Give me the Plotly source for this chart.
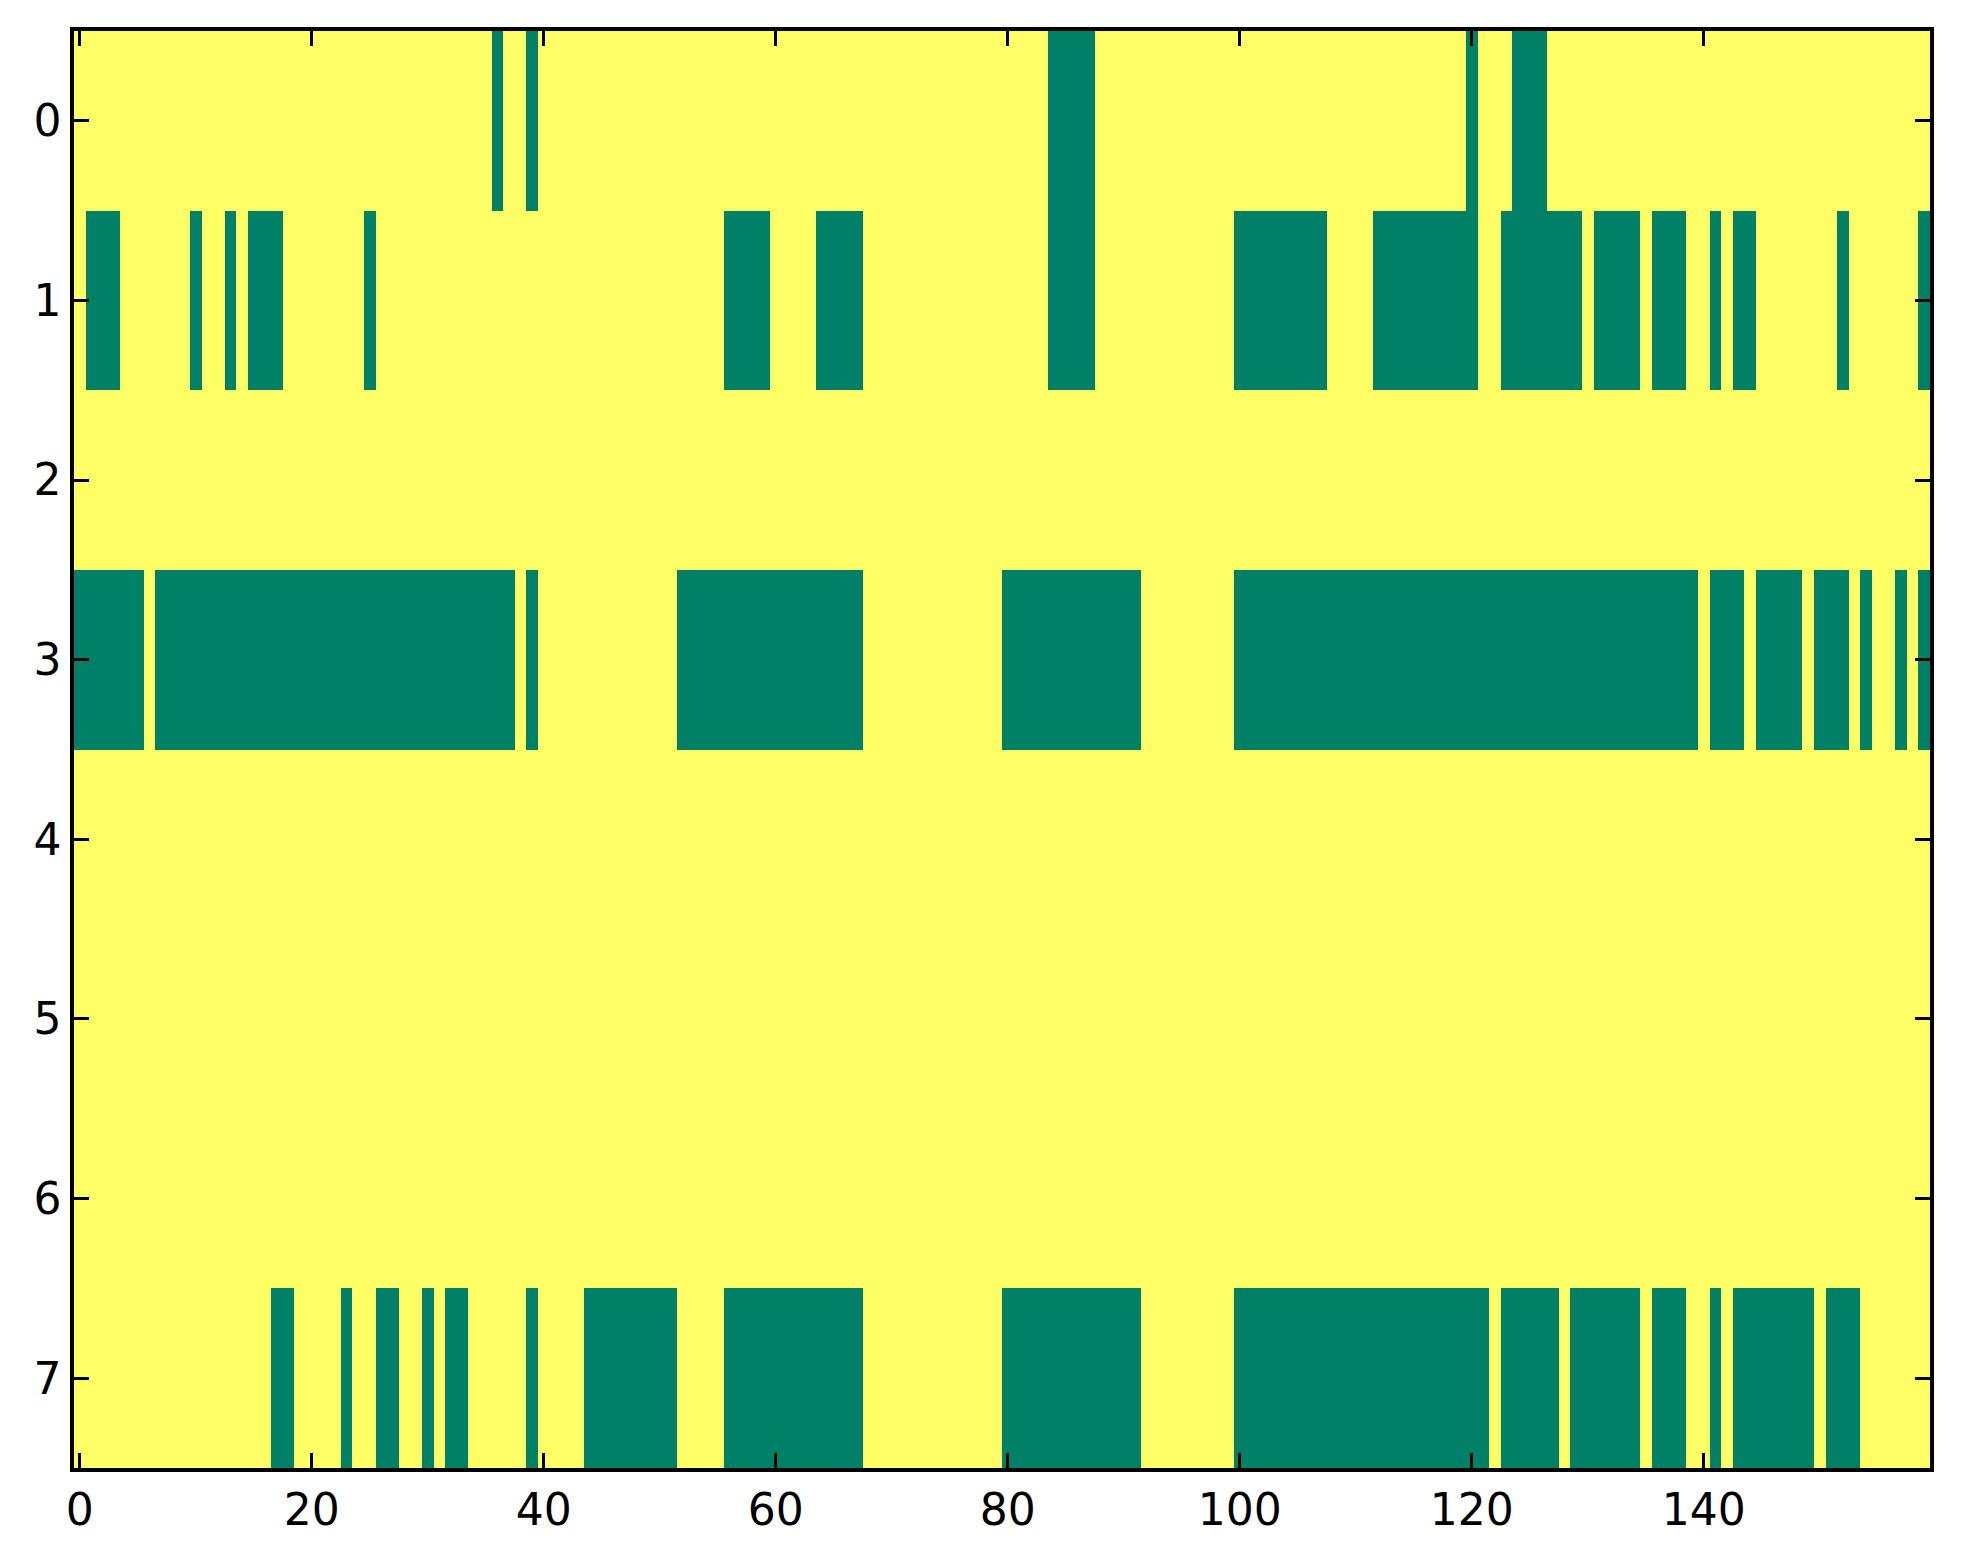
import numpy as np
import plotly.graph_objects as go

n_cols = 160
row_labels = [0, 1, 2, 3, 4, 5, 6, 7]
x_ticks = [0, 20, 40, 60, 80, 100, 120, 140]

# runs of zero-valued (green) cells per row, inclusive column ranges
row0_zero = [(36, 36), (39, 39), (84, 87), (120, 120), (124, 126)]
row1_zero = [(1, 3), (10, 10), (13, 13), (15, 17), (25, 25), (56, 59), (64, 67), (84, 87),
             (100, 107), (112, 120), (123, 129), (131, 134), (136, 138), (141, 141),
             (143, 144), (152, 152), (159, 159)]
row2_zero = []
row3_zero = [(0, 5), (7, 37), (39, 39), (52, 67), (80, 91), (100, 139), (141, 143),
             (145, 148), (150, 152), (154, 154), (157, 157), (159, 159)]
row4_zero = []
row5_zero = []
row6_zero = []
row7_zero = [(17, 18), (23, 23), (26, 27), (30, 30), (32, 33), (39, 39), (44, 51), (56, 67),
             (80, 91), (100, 121), (123, 127), (129, 134), (136, 138), (141, 141),
             (143, 149), (151, 153)]

rows = [row0_zero, row1_zero, row2_zero, row3_zero, row4_zero, row5_zero, row6_zero, row7_zero]

z = np.ones((len(rows), n_cols))
for r, runs in enumerate(rows):
    for a, b in runs:
        z[r, a:b + 1] = 0

green = "rgb(0,128,102)"
yellow = "rgb(255,255,102)"

fig = go.Figure(go.Heatmap(
    z=z,
    x=list(range(n_cols)),
    y=row_labels,
    zmin=0, zmax=1,
    colorscale=[[0, green], [1, yellow]],
    showscale=False,
    hoverinfo="skip",
))

font = dict(family="DejaVu Sans", size=44, color="black")
axis_common = dict(
    showline=True, linecolor="black", linewidth=3.5, mirror="ticks",
    ticks="inside", ticklen=15, tickwidth=3, tickcolor="black",
    showgrid=False, zeroline=False, tickfont=font,
)
fig.update_layout(
    width=1963, height=1564,
    margin=dict(l=66, r=41, t=23, b=104),
    paper_bgcolor="white", plot_bgcolor="white",
    xaxis=dict(range=[-0.5, n_cols - 0.5], tickvals=x_ticks, **axis_common),
    yaxis=dict(range=[7.5, -0.5], tickvals=row_labels, **axis_common),
)
fig.write_html("out.html")
